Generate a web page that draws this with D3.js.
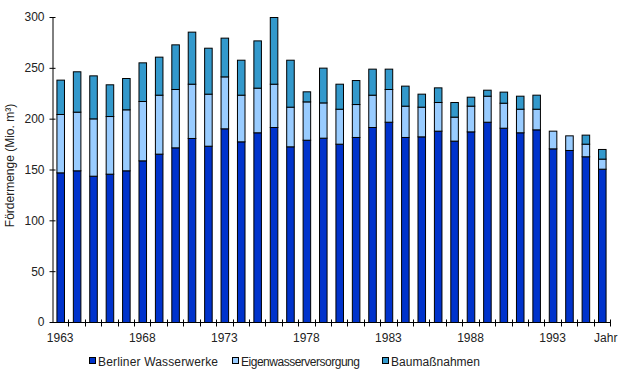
<!DOCTYPE html>
<html>
<head>
<meta charset="utf-8">
<script src="https://cdn.jsdelivr.net/npm/d3@7"></script>
<style>
  body { margin: 0; background: #fff; }
  svg { display: block; font-family: "Liberation Sans", Arial, sans-serif; }
  .axis text { font-size: 12px; fill: #222; }
  .axis path, .axis line { stroke: #000; }
</style>
</head>
<body>
<div id="chart"></div>
<script>
const years = d3.range(1963, 1997);
const berliner = [147.2, 149.2, 143.9, 145.9, 149.2, 159, 165.6, 171.8, 181, 173.4,
  190.5, 177.7, 186.6, 191.8, 172.8, 179.3, 181.3, 175.4, 182, 191.8,
  197, 182, 182.6, 188.2, 178.4, 187.5, 197, 191.1, 186.6, 189.5,
  170.8, 169.2, 163, 150.8];
const eigen = [57.4, 57.7, 56.4, 56.7, 60, 58.4, 58, 57.4, 53.4, 51.2,
  51.1, 45.9, 43.9, 42.6, 39, 37.7, 34.7, 34.4, 32.4, 31.8,
  32.2, 30.8, 29.2, 28.2, 23.6, 25.3, 25.6, 24.6, 23.2, 20.3,
  17.4, 14.4, 12.4, 9.9];
const bau = [33.8, 39.7, 42.3, 31.2, 30.8, 38, 37.4, 43.9, 51.2, 45.2,
  38.1, 34.4, 46.5, 65.6, 46.2, 9.9, 34.2, 24.6, 23.6, 25.6,
  20, 19.7, 12.8, 14.4, 14.4, 8.8, 5.9, 10.9, 12.8, 13.8,
  0, 0, 8.9, 9.5];
const seriesNames = ["Berliner Wasserwerke", "Eigenwasserversorgung", "Baumaßnahmen"];
const seriesColors = ["#0033cc", "#99ccff", "#3399cc"];
const yTicks = [0, 50, 100, 150, 200, 250, 300];
const xTickYears = [1963, 1968, 1973, 1978, 1983, 1988, 1993, 1996];
const lastLabel = "Jahr";

const width = 620, height = 373;
const margin = { top: 17, right: 10, bottom: 51, left: 52 };

const table = years.map((y, i) => ({ year: y, b: berliner[i], e: eigen[i], u: bau[i] }));
const stack = d3.stack().keys(["b", "e", "u"])(table);

const svg = d3.select("#chart").append("svg")
  .attr("width", width).attr("height", height);

const x = d3.scaleBand()
  .domain(years)
  .range([margin.left, width - margin.right])
  .paddingInner(0.54).paddingOuter(0.27);

const y = d3.scaleLinear()
  .domain([0, 300])
  .range([height - margin.bottom, margin.top]);

// bars
svg.append("g")
  .selectAll("g")
  .data(stack)
  .join("g")
  .attr("fill", (d, i) => seriesColors[i])
  .selectAll("rect")
  .data(d => d.filter(p => p[1] - p[0] > 0))
  .join("rect")
  .attr("x", d => x(d.data.year) + 0.5)
  .attr("y", d => y(d[1]) + 0.5)
  .attr("width", x.bandwidth())
  .attr("height", d => y(d[0]) - y(d[1]))
  .attr("stroke", "#000")
  .attr("stroke-width", 1);

// y axis
svg.append("g")
  .attr("class", "axis")
  .attr("transform", `translate(${margin.left + 0.5},0)`)
  .call(d3.axisLeft(y).tickValues(yTicks).tickSize(3).tickSizeOuter(0).tickPadding(5))
  .call(g => g.selectAll(".tick line").attr("x2", 3).attr("x1", -3));

// x axis: ticks between bands
const x0 = margin.left;
const xAxis = svg.append("g")
  .attr("class", "axis")
  .attr("transform", `translate(0,${y(0) + 0.5})`);
xAxis.append("line")
  .attr("x1", x0).attr("x2", width - margin.right)
  .attr("stroke", "#000");
xAxis.selectAll(".sep")
  .data(d3.range(1, years.length + 1))
  .join("line")
  .attr("class", "sep")
  .attr("x1", i => Math.round(x0 + i * (width - margin.right - x0) / years.length) + 0.5)
  .attr("x2", i => Math.round(x0 + i * (width - margin.right - x0) / years.length) + 0.5)
  .attr("y1", -3).attr("y2", 4)
  .attr("stroke", "#000");
xAxis.selectAll("text")
  .data(xTickYears)
  .join("text")
  .attr("x", d => x(d) + x.bandwidth() / 2 + (d === years[years.length - 1] ? 4 : 0))
  .attr("y", 19)
  .attr("text-anchor", "middle")
  .text(d => d === years[years.length - 1] ? lastLabel : d);

// y title
svg.append("text")
  .attr("transform", `translate(14,${(y(0) + y(300)) / 2 - 4}) rotate(-90)`)
  .attr("text-anchor", "middle")
  .attr("font-size", 12)
  .attr("fill", "#222")
  .text("Fördermenge (Mio. m³)");

// legend
const legendX = [89, 232, 382];
const legendW = [120, 119, 89];
const legend = svg.append("g").attr("transform", `translate(0,362)`);
const item = legend.selectAll("g")
  .data(seriesNames)
  .join("g")
  .attr("transform", (d, i) => `translate(${legendX[i]},0)`);
item.append("rect")
  .attr("x", 0.5).attr("y", -4.5)
  .attr("width", 6).attr("height", 6)
  .attr("fill", (d, i) => seriesColors[i])
  .attr("stroke", "#000");
item.append("text")
  .attr("x", 9).attr("y", 4)
  .attr("font-size", 12)
  .attr("fill", "#222")
  .attr("textLength", (d, i) => legendW[i])
  .attr("lengthAdjust", "spacing")
  .text(d => d);
</script>
</body>
</html>
